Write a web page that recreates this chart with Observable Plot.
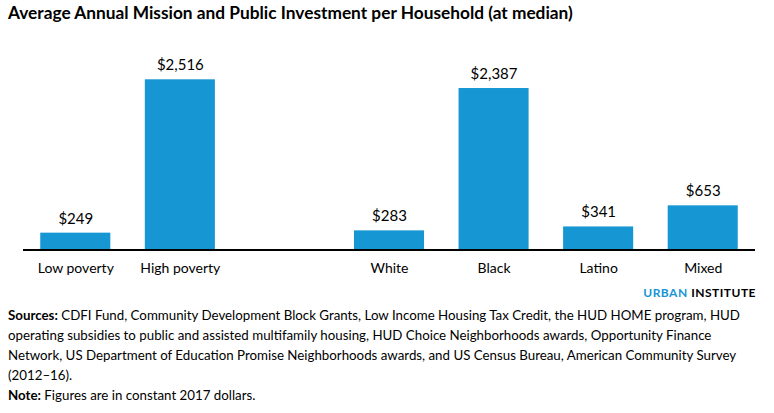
<!DOCTYPE html>
<html>
<head>
<meta charset="utf-8">
<script src="https://cdn.jsdelivr.net/npm/d3@7"></script>
<script src="https://cdn.jsdelivr.net/npm/@observablehq/plot@0.6"></script>
<style>
  body { margin: 0; background: #fff; font-family: Lato, "Noto Sans", sans-serif; color: #000; }
  #title { box-sizing: border-box; height: 30px; padding: 3px 0 0 8px; font-size: 17.3px; line-height: 20px; font-weight: bold; }
  #brand { height: 16px; line-height: 16px; font-size: 12px; font-weight: bold; text-align: right; padding-right: 18px; letter-spacing: 0.5px; }
  #brand .u { color: #1696d2; }
  #caption { margin-top: 4px; padding: 0 8px; width: 766px; box-sizing: border-box; font-size: 13.3px; line-height: 20px; }
  svg { display: block; }
</style>
</head>
<body>
<div id="title">Average Annual Mission and Public Investment per Household (at median)</div>
<div id="chart"></div>
<div id="brand"><span class="u">URBAN</span> INSTITUTE</div>
<div id="caption"><b>Sources:</b> CDFI Fund, Community Development Block Grants, Low Income Housing Tax Credit, the HUD HOME program, HUD operating subsidies to public and assisted multifamily housing, HUD Choice Neighborhoods awards, Opportunity Finance Network, US Department of Education Promise Neighborhoods awards, and US Census Bureau, American Community Survey (2012–16).<br><b>Note:</b> Figures are in constant 2017 dollars.</div>
<script>
const categories = ["Low poverty", "High poverty", "White", "Black", "Latino", "Mixed"];
const values = [249, 2516, 283, 2387, 341, 653];
const slots = ["Low poverty", "High poverty", "gap", "White", "Black", "Latino", "Mixed"];

const data = categories.map((c, i) => ({category: c, value: values[i]}));
const fmt = d3.format(",");

const chart = Plot.plot({
  width: 774,
  height: 255,
  marginLeft: 23,
  marginRight: 19,
  marginTop: 49.3,
  marginBottom: 35.5,
  style: {fontFamily: "Lato, 'Noto Sans', sans-serif", fontSize: "14px", color: "#000", background: "#fff"},
  x: {domain: slots, paddingInner: 0.33, paddingOuter: 0.165, round: false, label: null, tickSize: 0, tickPadding: 13,
      tickFormat: d => d === "gap" ? "" : d},
  y: {domain: [0, 2516], axis: null},
  marks: [
    Plot.barY(data, {x: "category", y: "value", fill: "#1696d2"}),
    Plot.ruleY([0], {stroke: "#000", strokeWidth: 2}),
    Plot.text(data, {x: "category", y: "value", text: d => "$" + fmt(d.value), lineAnchor: "bottom", dy: -9.5, fontSize: 15, fill: "#000"})
  ]
});
document.getElementById("chart").appendChild(chart);
</script>
</body>
</html>
